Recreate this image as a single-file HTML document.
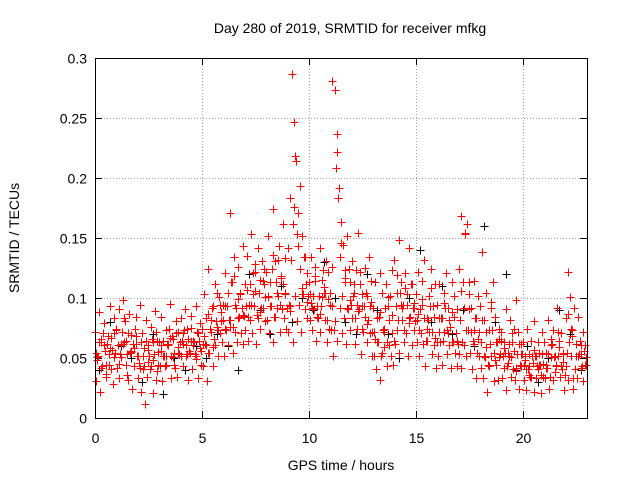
<!DOCTYPE html>
<html><head><meta charset="utf-8"><style>
html,body{margin:0;padding:0;background:#fff;}
svg{display:block;font-family:"Liberation Sans",sans-serif;}
</style></head><body>
<svg id="chart" width="640" height="480" viewBox="0 0 640 480">
<rect width="640" height="480" fill="#fff"/>
<text x="350" y="33" text-anchor="middle" font-size="14">Day 280 of 2019, SRMTID for receiver mfkg</text>
<text transform="translate(19,238) rotate(-90)" text-anchor="middle" font-size="14">SRMTID / TECUs</text>
<text x="341" y="470" text-anchor="middle" font-size="14">GPS time / hours</text>
<g id="grid"></g>
<g id="axes"></g>
<g id="black"></g>
<g id="red"></g>
<rect x="95.5" y="58.5" width="492" height="360" fill="none" stroke="#000" stroke-width="1"/>
</svg>
<script>
const xTicks=[0,5,10,15,20];
const yTicks=[0,0.05,0.1,0.15,0.2,0.25,0.3];
const yTickLabels=["0","0.05","0.1","0.15","0.2","0.25","0.3"];
const timeStep=0.1;
const redHigh=[.072,.051,.088,.063,.079,.044,.068,.093,.057,.083,.074,.091,.062,.098,.081,.053,.087,.069,.058,.084,.052,.094,.071,.043,.082,.061,.076,.048,.089,.064,.063,.084,.052,.073,.061,.095,.068,.054,.081,.072,.083,.062,.091,.074,.056,.085,.064,.093,.071,.079,.074,.103,.061,.124,.082,.093,.112,.076,.101,.088,.094,.121,.104,.171,.113,.134,.092,.126,.103,.143,.112,.135,.094,.153,.121,.106,.142,.115,.131,.124,.122,.152,.113,.174,.131,.104,.143,.118,.162,.133,.142,.183,.287,.247,.214,.171,.193,.152,.134,.121,.113,.134,.102,.126,.093,.142,.115,.104,.131,.122,.104,.281,.273,.222,.192,.163,.144,.123,.152,.113,.131,.104,.123,.154,.112,.093,.125,.102,.134,.114,.092,.113,.083,.121,.104,.074,.112,.093,.102,.123,.132,.104,.148,.113,.094,.121,.103,.142,.112,.092,.103,.122,.091,.114,.132,.083,.102,.124,.093,.112,.094,.112,.083,.104,.121,.092,.076,.113,.102,.091,.124,.168,.113,.153,.162,.103,.092,.114,.083,.102,.093,.138,.082,.104,.073,.092,.113,.084,.063,.074,.072,.063,.091,.054,.082,.063,.074,.098,.062,.053,.063,.052,.074,.043,.064,.081,.052,.063,.044,.072,.063,.054,.082,.061,.073,.052,.092,.064,.071,.053,.083,.122,.101,.073,.092,.062,.084,.053,.072,.061];
const redLow=[.031,.052,.022,.043,.061,.034,.053,.041,.028,.054,.042,.033,.051,.063,.044,.032,.054,.024,.043,.062,.033,.022,.041,.012,.034,.052,.043,.021,.032,.044,.043,.031,.052,.044,.062,.033,.051,.042,.034,.053,.052,.043,.061,.032,.054,.041,.063,.052,.033,.044,.043,.062,.031,.054,.072,.043,.061,.052,.071,.063,.052,.073,.061,.082,.054,.072,.063,.084,.071,.062,.073,.064,.082,.071,.093,.062,.083,.074,.092,.081,.082,.071,.093,.063,.084,.102,.072,.091,.083,.074,.072,.093,.063,.102,.081,.094,.072,.103,.091,.083,.082,.073,.091,.064,.083,.072,.101,.082,.063,.074,.073,.052,.081,.064,.092,.071,.083,.062,.091,.073,.083,.062,.074,.091,.053,.072,.084,.063,.071,.052,.052,.041,.063,.032,.054,.072,.043,.061,.052,.044,.062,.073,.054,.082,.063,.071,.052,.084,.061,.073,.063,.052,.071,.062,.043,.064,.072,.053,.061,.042,.052,.063,.044,.072,.053,.061,.042,.063,.054,.043,.053,.042,.061,.052,.073,.054,.041,.062,.033,.052,.042,.033,.051,.022,.043,.052,.031,.044,.032,.053,.033,.042,.023,.052,.034,.041,.032,.053,.024,.043,.032,.023,.041,.034,.052,.022,.033,.044,.021,.034,.033,.042,.024,.051,.032,.043,.052,.034,.041,.023,.043,.032,.052,.024,.041,.033,.053,.042,.031,.044];
const redMid=[.054,.063,.042,.071,.056,.062,.044,.067,.051,.073,.061,.053,.072,.083,.064,.071,.056,.062,.074,.052,.046,.063,.052,.064,.057,.041,.066,.053,.072,.055,.056,.064,.043,.062,.074,.052,.066,.071,.054,.063,.064,.073,.052,.066,.075,.061,.053,.072,.064,.056,.062,.083,.054,.074,.092,.066,.081,.073,.094,.082,.074,.093,.082,.113,.076,.094,.083,.104,.092,.085,.093,.084,.112,.103,.122,.086,.104,.092,.114,.101,.102,.093,.124,.084,.113,.132,.094,.112,.103,.092,.094,.132,.162,.218,.153,.124,.103,.134,.112,.102,.103,.092,.114,.084,.102,.093,.123,.104,.082,.094,.093,.073,.208,.183,.134,.102,.113,.092,.124,.094,.102,.083,.094,.122,.074,.093,.104,.082,.093,.072,.072,.063,.084,.052,.073,.092,.063,.082,.071,.064,.093,.082,.104,.092,.073,.094,.083,.112,.092,.081,.082,.073,.094,.083,.064,.082,.093,.072,.084,.063,.072,.083,.064,.092,.073,.082,.063,.084,.071,.062,.082,.063,.092,.073,.113,.072,.064,.083,.054,.072,.063,.052,.072,.044,.062,.073,.054,.063,.051,.064,.052,.054,.043,.062,.051,.056,.042,.072,.044,.053,.044,.041,.053,.034,.046,.052,.043,.054,.036,.045,.042,.053,.034,.062,.051,.044,.072,.043,.054,.036,.054,.063,.074,.033,.062,.052,.064,.043,.056,.051];
const altStep=0.2;
const redAlt=[.048,.066,.037,.058,.071,.045,.062,.036,.055,.068,.042,.058,.047,.063,.039,.061,.052,.067,.044,.059,.071,.053,.064,.049,.058,.068,.087,.059,.104,.081,.093,.076,.118,.099,.086,.107,.094,.128,.088,.112,.101,.136,.092,.117,.104,.089,.176,.143,.108,.097,.096,.118,.087,.109,.099,.126,.237,.146,.117,.098,.112,.089,.103,.078,.097,.066,.088,.059,.101,.086,.119,.094,.108,.079,.096,.087,.099,.074,.108,.067,.083,.096,.071,.088,.064,.106,.154,.091,.073,.066,.082,.059,.097,.048,.066,.058,.046,.071,.039,.062,.048,.036,.057,.041,.053,.044,.066,.038,.059,.047,.087,.068,.052,.061,.044];
const blackStep=0.5;
const blackVals=[.04,.08,.06,.05,.03,.07,.02,.05,.04,.06,.05,.07,.06,.04,.12,.09,.07,.11,.08,.10,.09,.13,.10,.08,.07,.12,.09,.07,.05,.10,.14,.08,.11,.07,.09,.06,.16,.08,.12,.04,.06,.03,.05,.09,.07,.04];

const X0=95,X1=587,Y0=418,Y1=58,XMAX=23,YMAX=0.3;
const sx=t=>X0+(X1-X0)*t/XMAX;
const sy=v=>Y0-(Y0-Y1)*v/YMAX;
const NS="http://www.w3.org/2000/svg";
function mk(tag,attrs,parent){const e=document.createElementNS(NS,tag);for(const k in attrs)e.setAttribute(k,attrs[k]);parent.appendChild(e);return e;}
const grid=document.getElementById('grid'),axes=document.getElementById('axes');
yTicks.forEach((v,i)=>{
  const y=Math.round(sy(v))+0.5;
  if(i>0&&i<yTicks.length-1){const g=mk('line',{x1:X0,x2:X1,y1:y,y2:y,stroke:'#a0a0a0','stroke-dasharray':'1,2'},grid);
  
  }
  mk('line',{x1:X0,x2:X0+7,y1:y,y2:y,stroke:'#000'},axes);
  mk('line',{x1:X1,x2:X1-7,y1:y,y2:y,stroke:'#000'},axes);
  const t=mk('text',{x:X0-8,y:y+5,'text-anchor':'end','font-size':'14'},axes);
  t.textContent=yTickLabels[i];
  
  
});
xTicks.forEach(v=>{
  const x=Math.round(sx(v))+0.5;
  if(v>0){const g=mk('line',{x1:x,x2:x,y1:Y0,y2:Y1,stroke:'#a0a0a0','stroke-dasharray':'1,2'},grid);
  
  }
  mk('line',{x1:x,x2:x,y1:Y0,y2:Y0-7,stroke:'#000'},axes);
  mk('line',{x1:x,x2:x,y1:Y1,y2:Y1+7,stroke:'#000'},axes);
  const t=mk('text',{x:x,y:Y0+25,'text-anchor':'middle','font-size':'14'},axes);
  t.textContent=String(v);
  
  
});
function plus(g,t,v,color){
  const x=Math.round(sx(t))+0.5,y=Math.round(sy(v))+0.5;
  const p=mk('path',{d:`M${x-4},${y}h8M${x},${y-4}v8`,stroke:color,'stroke-width':'1',fill:'none'},g);
  
  
}
const bg=document.getElementById('black'),rg=document.getElementById('red');
blackVals.forEach((v,i)=>plus(bg,i*blackStep+0.2,v,'#000'));
redHigh.forEach((v,i)=>plus(rg,i*timeStep,v,'#f00'));
redLow.forEach((v,i)=>plus(rg,i*timeStep+0.033,v,'#f00'));
redMid.forEach((v,i)=>plus(rg,i*timeStep+0.066,v,'#f00'));
redAlt.forEach((v,i)=>plus(rg,i*altStep+0.1,v,'#f00'));
</script>
</body></html>
